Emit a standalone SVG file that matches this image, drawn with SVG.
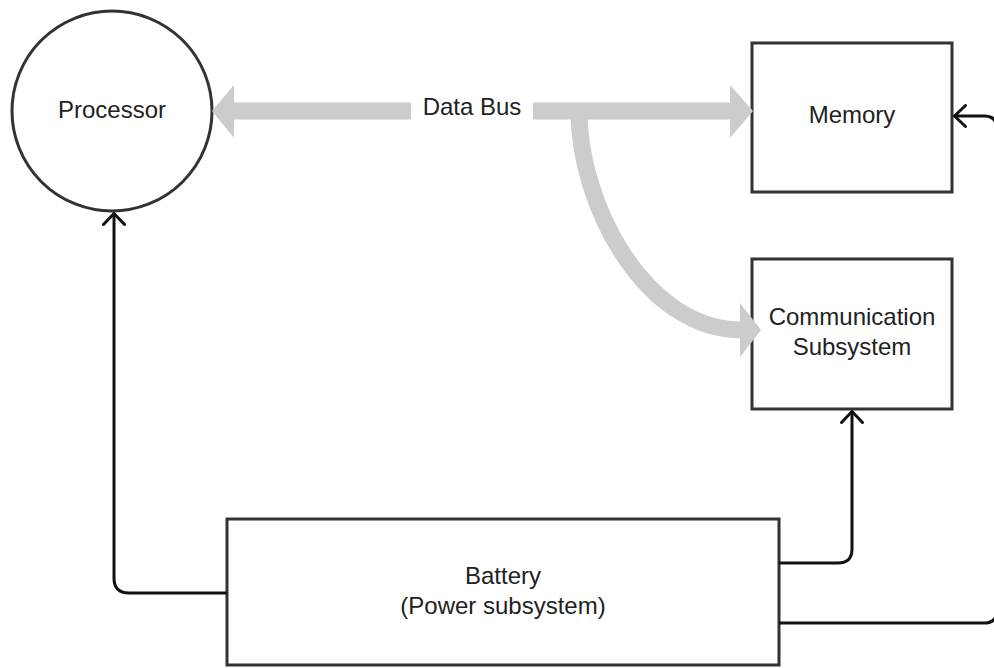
<svg xmlns="http://www.w3.org/2000/svg" width="994" height="668" viewBox="0 0 994 668">
<style>
.node{fill:#fff;stroke:#333;stroke-width:3}
.lbl{font-family:"Liberation Sans",Arial,sans-serif;font-size:24px;fill:#222;text-anchor:middle}
.wire{fill:none;stroke:#111;stroke-width:3;stroke-linejoin:round}
.bus{fill:none;stroke:#cccccc;stroke-width:17}
.head{fill:#cccccc}
</style>
<defs>
<marker id="open" viewBox="0 0 14 24" refX="13" refY="12" markerWidth="14" markerHeight="24" markerUnits="userSpaceOnUse" orient="auto">
<path d="M1.5,1.5 L12.5,12 L1.5,22.5" fill="none" stroke="#111" stroke-width="3" stroke-linecap="round" stroke-linejoin="round"/>
</marker>
</defs>
<rect width="994" height="668" fill="#fff"/>
<g id="processor">
<circle class="node" cx="112" cy="111" r="100"/>
<text class="lbl" x="112" y="118">Processor</text>
</g>
<g id="memory">
<rect class="node" x="752" y="43" width="200" height="149"/>
<text class="lbl" x="852" y="123">Memory</text>
</g>
<g id="communication">
<rect class="node" x="752" y="259" width="200" height="150"/>
<text class="lbl" x="852" y="325">Communication</text>
<text class="lbl" x="852" y="355">Subsystem</text>
</g>
<g id="battery">
<rect class="node" x="227" y="519" width="552" height="146"/>
<text class="lbl" x="503" y="584">Battery</text>
<text class="lbl" x="503" y="614">(Power subsystem)</text>
</g>
<g id="connectors">
<g id="data-bus">
<line class="bus" x1="232" y1="111" x2="411" y2="111"/>
<polygon class="head" points="212,111 234,85 234,138"/>
<line class="bus" x1="533" y1="111" x2="732" y2="111"/>
<polygon class="head" points="753,111 730,85 730,138"/>
<path class="bus" d="M579,111 C579,205 645,330 742,330"/>
<polygon class="head" points="761,330 740,303 740,357"/>
<text class="lbl" x="472" y="115">Data Bus</text>
</g>
<path class="wire" marker-end="url(#open)" d="M227,593 H129 Q114,593 114,578 V213"/>
<path class="wire" marker-end="url(#open)" d="M779,563 H838 Q852,563 852,549 V411"/>
<path class="wire" marker-end="url(#open)" d="M779,623 H984 Q997,623 997,610 V129 Q997,116 984,116 H954"/>
</g>
</svg>
